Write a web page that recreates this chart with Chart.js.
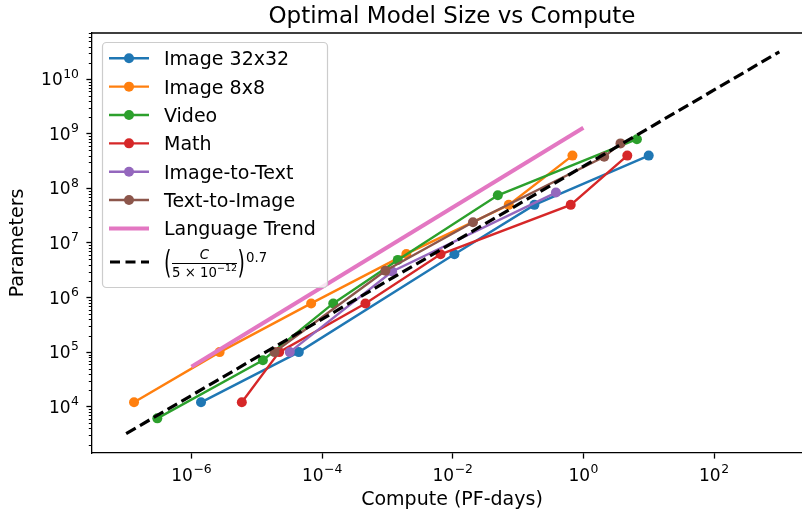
<!DOCTYPE html>
<html>
<head>
<meta charset="utf-8">
<title>Optimal Model Size vs Compute</title>
<script src="https://cdn.jsdelivr.net/npm/chart.js@4.4.1/dist/chart.umd.min.js"></script>
<style>
  html, body { margin: 0; padding: 0; background: #fff; overflow: hidden; }
  #wrap { width: 830px; height: 511px; }
</style>
</head>
<body>
<div id="wrap"><canvas id="c" width="830" height="511"></canvas></div>
<script>
// ---- data: compute in PF-days, model size in parameters ----
const seriesNames = ['Image 32x32', 'Image 8x8', 'Video', 'Math', 'Image-to-Text', 'Text-to-Image', 'Language Trend'];

const image32Compute = [1.4e-6, 4.4e-5, 1.06e-2, 0.178, 10.0];
const image32Params  = [1.2e4, 1.0e5, 6.2e6, 5.0e7, 4.0e8];

const image8Compute = [1.32e-7, 2.7e-6, 6.8e-5, 1.95e-3, 7.2e-2, 0.68];
const image8Params  = [1.2e4, 1.0e5, 7.8e5, 6.3e6, 5.0e7, 4.0e8];

const videoCompute = [3.0e-7, 1.24e-5, 1.48e-4, 1.44e-3, 4.9e-2, 6.6];
const videoParams  = [6.1e3, 7.1e4, 7.8e5, 4.9e6, 7.5e7, 8.0e8];

const mathCompute = [5.9e-6, 2.2e-5, 4.6e-4, 6.5e-3, 0.64, 4.7];
const mathParams  = [1.2e4, 1.0e5, 7.8e5, 6.2e6, 5.0e7, 4.0e8];

const imgToTextCompute = [3.2e-5, 1.18e-3, 0.38];
const imgToTextParams  = [1.0e5, 3.0e6, 8.4e7];

const textToImgCompute = [1.87e-5, 9.3e-4, 2.04e-2, 2.08, 3.7];
const textToImgParams  = [1.0e5, 3.1e6, 2.4e7, 3.8e8, 6.7e8];

const languageCompute = [1e-6, 1.0];
const languageParams  = [5.4e4, 1.3e9];

// power-law guide (C / 5e-12)^0.7, endpoints
const powerLawCompute = [1e-7, 1e3];
const powerLawParams  = [3.2e3, 3.2e10];

// ---- axis ticks ----
const xTickValues    = [1e-6, 1e-4, 1e-2, 1, 1e2];
const xTickExponents = [-6, -4, -2, 0, 2];
const yTickValues    = [1e4, 1e5, 1e6, 1e7, 1e8, 1e9, 1e10];
const yTickExponents = [4, 5, 6, 7, 8, 9, 10];

const FONT = "'DejaVu Sans', 'Noto Sans', sans-serif";
const palette = ['#1f77b4', '#ff7f0e', '#2ca02c', '#d62728', '#9467bd', '#8c564b', '#e377c2'];

function toPoints(xs, ys) { return xs.map((x, i) => ({ x: x, y: ys[i] })); }

const seriesData = [
  toPoints(image32Compute, image32Params),
  toPoints(image8Compute, image8Params),
  toPoints(videoCompute, videoParams),
  toPoints(mathCompute, mathParams),
  toPoints(imgToTextCompute, imgToTextParams),
  toPoints(textToImgCompute, textToImgParams),
  toPoints(languageCompute, languageParams)
];

const datasets = seriesData.map((pts, i) => {
  const isTrend = i === 6;
  return {
    label: seriesNames[i],
    data: pts,
    borderColor: palette[i],
    backgroundColor: palette[i],
    borderWidth: isTrend ? 4 : 2.4,
    pointRadius: isTrend ? 0 : 5,
    pointHoverRadius: isTrend ? 0 : 5,
    pointBorderWidth: 0,
    pointBackgroundColor: palette[i],
    tension: 0,
    fill: false,
    order: 20 - i
  };
});
datasets.push({
  label: 'powerlaw',
  data: toPoints(powerLawCompute, powerLawParams),
  borderColor: '#000',
  backgroundColor: '#000',
  borderWidth: 3.2,
  borderDash: [11, 5],
  pointRadius: 0,
  pointHoverRadius: 0,
  tension: 0,
  fill: false,
  order: 0
});

// draws "10" with a raised exponent
function drawPower(ctx, exp, x, baseline, align) {
  const baseFont = '17px ' + FONT;
  const supFont = '12.4px ' + FONT;
  const supText = exp < 0 ? '\u2212' + Math.abs(exp) : String(exp);
  ctx.font = baseFont;
  const wb = ctx.measureText('10').width;
  ctx.font = supFont;
  const ws = ctx.measureText(supText).width;
  const total = wb + ws + 0.5;
  const x0 = align === 'right' ? x - total : x - total / 2;
  ctx.textAlign = 'left';
  ctx.textBaseline = 'alphabetic';
  ctx.font = baseFont;
  ctx.fillText('10', x0, baseline);
  ctx.font = supFont;
  ctx.fillText(supText, x0 + wb + 0.5, baseline - 7.8);
}

const decor = {
  id: 'decor',
  afterDraw(chart) {
    const ctx = chart.ctx;
    const a = chart.chartArea;
    const xs = chart.scales.x, ys = chart.scales.y;
    ctx.save();
    ctx.fillStyle = '#000';
    ctx.strokeStyle = '#000';

    // top and right spines
    ctx.lineWidth = 1.3;
    ctx.beginPath();
    ctx.moveTo(a.left, a.top);
    ctx.lineTo(a.right, a.top);
    ctx.lineTo(a.right, a.bottom);
    ctx.stroke();

    // minor ticks on the parameter axis
    ctx.lineWidth = 1;
    for (let n = 3; n <= 10; n++) {
      for (let k = 2; k <= 9; k++) {
        const v = k * Math.pow(10, n);
        if (v < ys.min || v > ys.max) continue;
        const py = Math.round(ys.getPixelForValue(v)) + 0.5;
        ctx.beginPath();
        ctx.moveTo(a.left, py);
        ctx.lineTo(a.left - 3.2, py);
        ctx.stroke();
      }
    }

    // tick labels
    yTickValues.forEach((v, i) => {
      drawPower(ctx, yTickExponents[i], 79, ys.getPixelForValue(v) + 6, 'right');
    });
    xTickValues.forEach((v, i) => {
      drawPower(ctx, xTickExponents[i], xs.getPixelForValue(v), 481, 'center');
    });

    // title and axis titles
    ctx.textAlign = 'center';
    ctx.textBaseline = 'alphabetic';
    ctx.font = '23px ' + FONT;
    ctx.fillText('Optimal Model Size vs Compute', (a.left + a.right) / 2, 23);
    ctx.font = '19px ' + FONT;
    ctx.fillText('Compute (PF-days)', (a.left + a.right) / 2, 505);
    ctx.save();
    ctx.translate(23, (a.top + a.bottom) / 2);
    ctx.rotate(-Math.PI / 2);
    ctx.fillText('Parameters', 0, 0);
    ctx.restore();

    // legend
    const L = { x0: 102, y0: 42, x1: 327, y1: 287, r: 4 };
    ctx.beginPath();
    ctx.roundRect(L.x0 + 0.5, L.y0 + 0.5, L.x1 - L.x0, L.y1 - L.y0, L.r);
    ctx.fillStyle = 'rgba(255,255,255,0.8)';
    ctx.fill();
    ctx.strokeStyle = '#cccccc';
    ctx.lineWidth = 1.2;
    ctx.stroke();

    const rowTop = 58.3, rowGap = 28.35;
    const hx0 = 109, hx1 = 149, tx = 164;
    chart.data.datasets.forEach((ds, i) => {
      if (i > 6) return;
      const cy = rowTop + i * rowGap;
      ctx.strokeStyle = ds.borderColor;
      ctx.lineWidth = ds.borderWidth;
      ctx.setLineDash([]);
      ctx.beginPath();
      ctx.moveTo(hx0, cy);
      ctx.lineTo(hx1, cy);
      ctx.stroke();
      if (ds.pointRadius > 0) {
        ctx.fillStyle = ds.borderColor;
        ctx.beginPath();
        ctx.arc((hx0 + hx1) / 2, cy, ds.pointRadius, 0, Math.PI * 2);
        ctx.fill();
      }
      ctx.fillStyle = '#000';
      ctx.font = '19px ' + FONT;
      ctx.textAlign = 'left';
      ctx.textBaseline = 'alphabetic';
      ctx.fillText(ds.label, tx, cy + 7);
    });

    // power-law row
    const cy = 262;
    ctx.strokeStyle = '#000';
    ctx.lineWidth = 3.2;
    ctx.setLineDash([10, 5.5]);
    ctx.beginPath();
    ctx.moveTo(hx0 + 1, cy);
    ctx.lineTo(hx1, cy);
    ctx.stroke();
    ctx.setLineDash([]);

    ctx.fillStyle = '#000';
    ctx.textAlign = 'left';
    ctx.textBaseline = 'alphabetic';
    // tall parentheses
    ctx.font = '19px ' + FONT;
    ctx.save();
    ctx.translate(164, cy + 1);
    ctx.scale(1, 1.72);
    ctx.fillText('(', 0, 6);
    ctx.restore();
    ctx.save();
    ctx.translate(237.5, cy + 1);
    ctx.scale(1, 1.72);
    ctx.fillText(')', 0, 6);
    ctx.restore();

    // fraction C / (5 x 10^-12)
    const fcx = 204.5;
    ctx.textAlign = 'center';
    ctx.font = 'italic 13.3px ' + FONT;
    ctx.fillText('C', fcx, 259);
    ctx.lineWidth = 1;
    ctx.beginPath();
    ctx.moveTo(172, 263.5);
    ctx.lineTo(237, 263.5);
    ctx.stroke();
    ctx.textAlign = 'left';
    ctx.font = '13.3px ' + FONT;
    const den = '5 \u00d7 10';
    const wd = ctx.measureText(den).width;
    ctx.font = '9.5px ' + FONT;
    const dsup = '\u221212';
    const wsup = ctx.measureText(dsup).width;
    const dx0 = fcx - (wd + wsup) / 2;
    ctx.font = '13.3px ' + FONT;
    ctx.fillText(den, dx0, 277);
    ctx.font = '9.5px ' + FONT;
    ctx.fillText(dsup, dx0 + wd, 271);
    // exponent 0.7
    ctx.font = '13.3px ' + FONT;
    ctx.fillText('0.7', 246, 262);

    ctx.restore();
  }
};

new Chart(document.getElementById('c'), {
  type: 'line',
  data: { datasets: datasets },
  options: {
    responsive: false,
    animation: false,
    devicePixelRatio: 1,
    layout: { padding: { top: 33, right: 18, left: 0, bottom: 0 } },
    plugins: {
      legend: { display: false },
      tooltip: { enabled: false },
      title: { display: false }
    },
    scales: {
      x: {
        type: 'logarithmic',
        position: 'bottom',
        min: Math.pow(10, -7.5),
        max: Math.pow(10, 3.5),
        afterBuildTicks: s => { s.ticks = xTickValues.map(v => ({ value: v })); },
        afterFit: s => { s.height = 58; },
        ticks: { display: false },
        grid: { display: true, drawOnChartArea: false, drawTicks: true, tickLength: 5.6, tickWidth: 1.3, tickColor: '#000' },
        border: { display: true, color: '#000', width: 1.3 }
      },
      y: {
        type: 'logarithmic',
        position: 'left',
        min: Math.pow(10, 3.15),
        max: Math.pow(10, 10.85),
        afterBuildTicks: s => { s.ticks = yTickValues.map(v => ({ value: v })); },
        afterFit: s => { s.width = 92; },
        ticks: { display: false },
        grid: { display: true, drawOnChartArea: false, drawTicks: true, tickLength: 5.6, tickWidth: 1.3, tickColor: '#000' },
        border: { display: true, color: '#000', width: 1.3 }
      }
    }
  },
  plugins: [decor]
});
</script>
</body>
</html>
